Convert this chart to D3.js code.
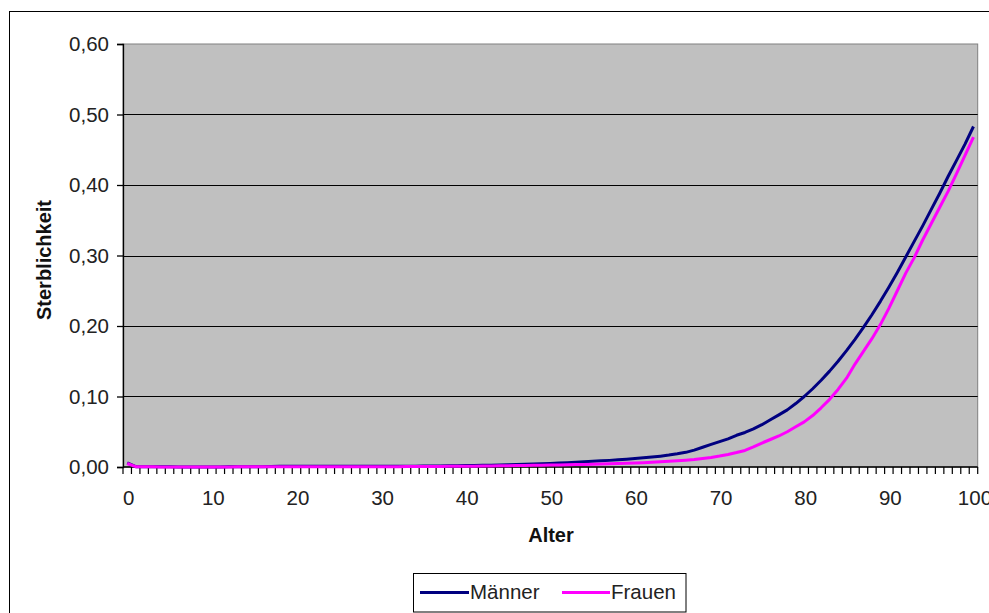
<!DOCTYPE html>
<html><head><meta charset="utf-8">
<script src="https://cdn.jsdelivr.net/npm/d3@7"></script>
<style>body{margin:0;background:#fff;}svg{display:block;font-family:"Liberation Sans",Arial,sans-serif;}</style>
</head><body><svg id="c" width="989" height="613"></svg>
<script>
const ages = d3.range(0, 101);
const maenner = [
0.0060,0.0005,0.0003,0.0002,0.0002,0.0002,0.0001,0.0001,0.0001,0.0001,
0.0001,0.0001,0.0002,0.0002,0.0003,0.0004,0.0005,0.0007,0.0009,0.0010,
0.0010,0.0010,0.0010,0.0009,0.0009,0.0009,0.0009,0.0009,0.0009,0.0009,
0.0010,0.0010,0.0011,0.0011,0.0012,0.0013,0.0014,0.0015,0.0017,0.0018,
0.0020,0.0022,0.0024,0.0026,0.0029,0.0032,0.0035,0.0039,0.0042,0.0046,
0.0050,0.0055,0.0060,0.0066,0.0073,0.0080,0.0087,0.0094,0.0102,0.0110,
0.0120,0.0130,0.0141,0.0154,0.0169,0.0187,0.0208,0.0240,0.0280,0.0320,
0.0360,0.0400,0.0450,0.0490,0.0540,0.0600,0.0670,0.0740,0.0810,0.0900,
0.1000,0.1110,0.1230,0.1360,0.1500,0.1650,0.1810,0.1980,0.2160,0.2350,
0.2550,0.2760,0.2980,0.3200,0.3420,0.3650,0.3880,0.4120,0.4350,0.4580,
0.4830];
const frauen = [
0.0050,0.0004,0.0002,0.0002,0.0001,0.0001,0.0001,0.0001,0.0001,0.0001,
0.0001,0.0001,0.0001,0.0002,0.0002,0.0002,0.0003,0.0003,0.0004,0.0004,
0.0004,0.0003,0.0003,0.0003,0.0003,0.0003,0.0003,0.0003,0.0004,0.0004,
0.0004,0.0005,0.0005,0.0006,0.0006,0.0007,0.0007,0.0008,0.0009,0.0010,
0.0011,0.0012,0.0013,0.0014,0.0016,0.0018,0.0020,0.0022,0.0024,0.0026,
0.0028,0.0030,0.0032,0.0034,0.0037,0.0040,0.0043,0.0046,0.0050,0.0054,
0.0058,0.0062,0.0067,0.0073,0.0080,0.0088,0.0097,0.0107,0.0120,0.0135,
0.0155,0.0178,0.0205,0.0235,0.0285,0.0340,0.0390,0.0440,0.0500,0.0570,
0.0640,0.0730,0.0840,0.0960,0.1100,0.1260,0.1460,0.1640,0.1820,0.2020,
0.2250,0.2500,0.2750,0.2970,0.3220,0.3450,0.3680,0.3910,0.4160,0.4420,
0.4680];
const yTicks = [0, 0.1, 0.2, 0.3, 0.4, 0.5, 0.6];
const xLabels = [0, 10, 20, 30, 40, 50, 60, 70, 80, 90, 100];
const seriesNames = ["Männer", "Frauen"];
const seriesColors = ["#000080", "#ff00ff"];
const yTitle = "Sterblichkeit";
const xTitle = "Alter";

const svg = d3.select("#c");
const L = 123, R = 977.7, T = 44, B = 467;
const FS = 20.5;
const x = d3.scaleBand().domain(ages).range([L, R]).padding(0);
const y = d3.scaleLinear().domain([0, 0.6]).range([B, T]);
const fmt = v => d3.format(".2f")(v).replace(".", ",");

// outer border
svg.append("rect").attr("x", 9.5).attr("y", 11.5).attr("width", 1100).attr("height", 700)
  .attr("fill", "#fff").attr("stroke", "#000").attr("stroke-width", 1);

// plot area
svg.append("rect").attr("x", L).attr("y", T).attr("width", R - L).attr("height", B - T)
  .attr("fill", "#c0c0c0").attr("stroke", "#808080").attr("stroke-width", 1);

// gridlines
svg.append("g").selectAll("line").data(yTicks.filter(v => v > 0 && v < 0.6)).join("line")
  .attr("x1", L).attr("x2", R).attr("y1", d => Math.round(y(d)) + 0.5).attr("y2", d => Math.round(y(d)) + 0.5)
  .attr("stroke", "#000").attr("stroke-width", 1.2);

// y axis
const yAxis = d3.axisLeft(y).tickValues(yTicks).tickFormat(fmt).tickSize(6).tickPadding(8);
const gy = svg.append("g").attr("transform", `translate(${L},0)`).call(yAxis);
gy.selectAll("text").attr("font-size", FS).attr("fill", "#222").attr("font-family", "Liberation Sans, Arial, sans-serif");
gy.selectAll("line,path").attr("stroke", "#000").attr("stroke-width", 1.3);

// x axis (ticks at category boundaries)
const boundaries = d3.range(0, 102).map(i => L + i * x.step());
svg.append("g").selectAll("line").data(boundaries).join("line")
  .attr("x1", d => d).attr("x2", d => d).attr("y1", B).attr("y2", B + 7)
  .attr("stroke", "#000").attr("stroke-width", 1.2);
svg.append("line").attr("x1", L).attr("x2", R).attr("y1", B).attr("y2", B).attr("stroke", "#000").attr("stroke-width", 1.5);
svg.append("g").selectAll("text").data(xLabels).join("text")
  .attr("x", d => x(d) + x.bandwidth() / 2 + 1.5).attr("y", 505)
  .attr("text-anchor", "middle").attr("font-size", FS).attr("fill", "#222").text(d => d);

// lines
const line = d3.line().x((d, i) => x(ages[i]) + x.bandwidth() / 2).y(d => y(d));
[maenner, frauen].forEach((s, k) => {
  svg.append("path").datum(s).attr("d", line).attr("fill", "none")
    .attr("stroke", seriesColors[k]).attr("stroke-width", 3).attr("stroke-linejoin", "round");
});

// titles
svg.append("text").attr("transform", "translate(51,260) rotate(-90)").attr("text-anchor", "middle")
  .attr("font-size", 20).attr("font-weight", "bold").attr("fill", "#111").text(yTitle);
svg.append("text").attr("x", 551).attr("y", 542).attr("text-anchor", "middle")
  .attr("font-size", 20).attr("font-weight", "bold").attr("fill", "#111").text(xTitle);

// legend
svg.append("rect").attr("x", 413.5).attr("y", 573.5).attr("width", 272.5).attr("height", 38.5)
  .attr("fill", "#fff").attr("stroke", "#000").attr("stroke-width", 1);
const lg = [{x1: 420, x2: 469, tx: 470}, {x1: 562, x2: 610, tx: 611}];
lg.forEach((p, k) => {
  svg.append("line").attr("x1", p.x1).attr("x2", p.x2).attr("y1", 592.5).attr("y2", 592.5)
    .attr("stroke", seriesColors[k]).attr("stroke-width", 3);
  svg.append("text").attr("x", p.tx).attr("y", 599).attr("font-size", FS).attr("fill", "#222").text(seriesNames[k]);
});
</script></body></html>
